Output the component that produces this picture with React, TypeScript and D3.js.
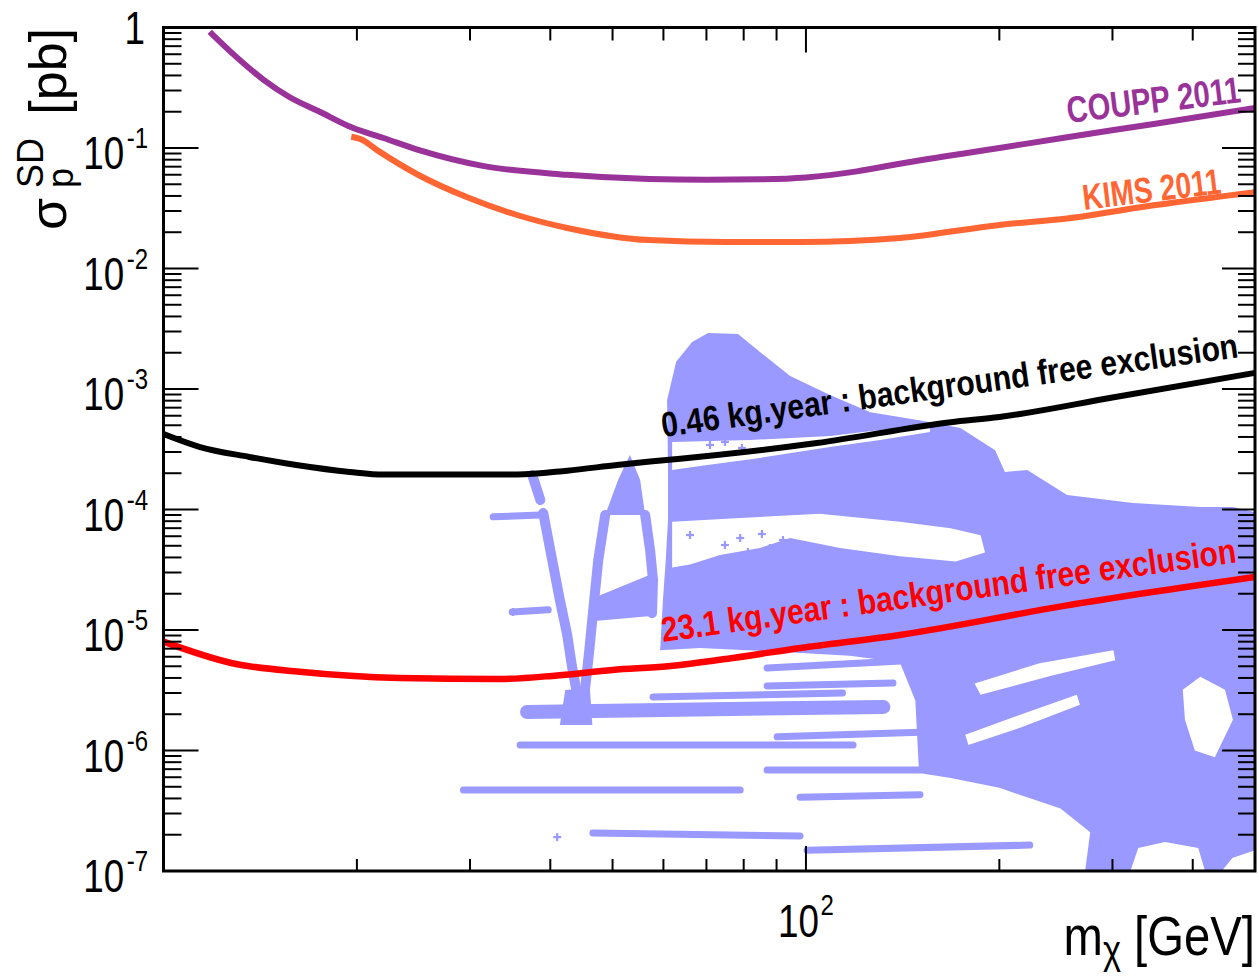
import React from "react";
import * as d3 from "d3";

type Pt = [number, number];

const WIDTH = 1259;
const HEIGHT = 976;
const PLOT = { left: 163.5, right: 1255, top: 27.5, bottom: 871 };

const massDomain: Pt = [10, 500];
const sigmaDomain: Pt = [1e-7, 1];

const yTickExps = [0, -1, -2, -3, -4, -5, -6, -7];
const xMajorTicks = [100];
const xMinorTicks = [20, 30, 40, 50, 60, 70, 80, 90, 200, 300, 400];
const xTickLabels = [{ value: 100, base: "10", exp: "2" }];

// exclusion curves [mass GeV, sigma pb]
const coupp2011: Pt[] = [
  [11.8, 0.92], [12.8, 0.61], [14.3, 0.37], [15.7, 0.265], [17.5, 0.2], [19.7, 0.147],
  [22, 0.121], [25, 0.096], [31.4, 0.071], [42.5, 0.06], [57, 0.0553], [70, 0.0545],
  [85, 0.055], [100, 0.057], [120, 0.064], [140, 0.074], [200, 0.1], [255, 0.123],
  [350, 0.159], [500, 0.215],
];
const kims2011: Pt[] = [
  [19.6, 0.124], [20.3, 0.118], [21.5, 0.096], [24.9, 0.06], [29.7, 0.039], [35.5, 0.0278],
  [42.5, 0.0217], [57, 0.0172], [75, 0.0166], [98, 0.0166], [140, 0.0179], [200, 0.023],
  [255, 0.026], [350, 0.0336], [500, 0.043],
];
const excl046: Pt[] = [
  [10, 4.23e-4], [11.4, 3.3e-4], [13.6, 2.73e-4], [16.1, 2.34e-4], [19.5, 2.05e-4],
  [22, 1.95e-4], [28, 1.95e-4], [35.5, 1.95e-4], [42.5, 2.1e-4], [50.8, 2.34e-4],
  [57.2, 2.5e-4], [72.7, 2.83e-4], [104, 3.56e-4], [168, 5.3e-4], [200, 5.86e-4],
  [300, 8.5e-4], [500, 1.36e-3],
];
const excl231: Pt[] = [
  [10, 8e-6], [12.8, 5.3e-6], [16.3, 4.5e-6], [23.3, 4.0e-6], [33.4, 3.92e-6], [41, 4.2e-6],
  [50, 4.66e-6], [61, 5.0e-6], [77, 5.86e-6], [98, 7.1e-6], [140, 9.1e-6], [255, 1.6e-5],
  [500, 2.75e-5],
];

// model scan cloud: outer region and holes
const cloudOuter: Pt[] = [
  [61.0, 2.13e-4], [60.8, 8.1e-4], [62.8, 1.68e-3], [66.5, 2.46e-3], [70.4, 2.92e-3],
  [78.4, 2.86e-3], [84.8, 2.03e-3], [94.5, 1.28e-3], [109, 8.9e-4], [126, 6.4e-4],
  [150, 5.5e-4], [174, 4.75e-4], [197, 3.1e-4], [204, 2.05e-4], [221, 2.13e-4],
  [234, 1.76e-4], [255, 1.32e-4], [323, 1.13e-4], [411, 1.05e-4], [462, 1.05e-4],
  [500, 9.5e-5], [500, 1.49e-7], [461, 1.28e-7], [444, 1e-7], [418, 1e-7], [408, 1.55e-7],
  [362, 1.74e-7], [329, 1.55e-7], [320, 1e-7], [272, 1e-7], [277, 2.1e-7], [249, 3.3e-7],
  [200, 4.9e-7], [168, 5.9e-7], [150, 6.5e-7], [148, 2.6e-6], [140, 5.4e-6], [117, 6.1e-6],
  [91, 6.6e-6], [68.4, 7.1e-6], [59.3, 6.8e-6], [59.9, 1.77e-5], [60.5, 3.8e-5], [61, 8.2e-5],
];
const cloudHoleA: Pt[] = [
  [61.9, 3.63e-4], [81.8, 3.77e-4], [109, 4.07e-4], [130.5, 4.57e-4], [156, 4.93e-4],
  [156, 4.4e-4], [130.5, 3.77e-4], [109, 3.3e-4], [84.8, 2.68e-4], [68.4, 2.3e-4], [61.9, 2.13e-4],
];
const cloudHoleB: Pt[] = [
  [61.9, 7.9e-5], [79, 8.5e-5], [105, 9.2e-5], [140, 7.9e-5], [168, 7.0e-5], [187, 6.1e-5],
  [190, 4.4e-5], [171, 3.7e-5], [140, 4.1e-5], [113, 4.8e-5], [94.5, 5.8e-5], [84.8, 4.8e-5],
  [73.5, 4.2e-5], [66, 3.5e-5], [61.9, 3.3e-5],
];
const cloudHoleC: Pt[] = [
  [386, 3.2e-6], [411, 4.1e-6], [449, 3.2e-6], [462, 1.8e-6], [433, 8.8e-7], [403, 1.0e-6], [389, 1.8e-6],
];
const cloudHoleD: Pt[] = [
  [183, 3.6e-6], [231, 5.3e-6], [301, 6.8e-6], [303, 5.6e-6], [240, 4.15e-6], [187, 2.9e-6],
];
const cloudHoleE: Pt[] = [
  [177, 1.35e-6], [215, 1.97e-6], [264, 2.9e-6], [267, 2.4e-6], [215, 1.54e-6], [179, 1.11e-6],
];
const cloudHoles = [cloudHoleA, cloudHoleB, cloudHoleC, cloudHoleD, cloudHoleE];

// separate filled patches
const patchAtop: Pt[] = [[53.2, 2.83e-4], [51, 1.76e-4], [48.7, 9.0e-5], [56.2, 9.0e-5], [55.2, 1.76e-4]];
const patchAbar: Pt[] = [[47.1, 1.88e-5], [57.8, 2.94e-5], [58, 1.31e-5], [46.9, 1.19e-5]];
const patchBlob: Pt[] = [[42.2, 3.18e-6], [46.1, 3.3e-6], [46.5, 1.63e-6], [41.4, 1.63e-6]];
const cloudPatches = [patchAtop, patchAbar, patchBlob];

// narrow branches
const legAleft: Pt[] = [[48.7, 9e-5], [47.5, 3.8e-5], [46.6, 1.38e-5], [46.0, 6.8e-6], [45.3, 3.2e-6]];
const legAright: Pt[] = [[56.2, 9e-5], [57.2, 4.6e-5], [57.8, 2.6e-5], [57.6, 1.38e-5]];
const legVtop: Pt[] = [[37.5, 1.93e-4], [38.6, 1.2e-4]];
const legV: Pt[] = [[39, 9.35e-5], [40, 4.6e-5], [41.4, 1.77e-5], [42.5, 9.1e-6], [43.2, 5.1e-6], [43.9, 3.2e-6]];
const cloudLegs = [legAleft, legAright, legVtop, legV];

// horizontal streaks of points
const cloudStreaks: Pt[][] = [
  [[32.6, 8.7e-5], [38.6, 9.0e-5]],
  [[34.9, 1.41e-5], [39.7, 1.47e-5]],
  [[87, 4.84e-6], [150.5, 5.64e-6]],
  [[87, 3.43e-6], [136.6, 3.63e-6]],
  [[57.8, 2.78e-6], [114, 3.0e-6]],
  [[35.9, 1.11e-6], [118.4, 1.11e-6]],
  [[90.2, 1.3e-6], [150.5, 1.42e-6]],
  [[87, 6.9e-7], [150.5, 6.9e-7]],
  [[29.3, 4.7e-7], [79, 4.7e-7]],
  [[97.9, 4.1e-7], [150.5, 4.3e-7]],
  [[46.6, 2.07e-7], [97.9, 1.95e-7]],
  [[100.4, 1.49e-7], [223, 1.64e-7]],
];
const cloudWideStreak: Pt[] = [[36.8, 2.09e-6], [132, 2.3e-6]];

const cloudPoints: Pt[] = [
  [41.0, 1.91e-7], [35.0, 1.41e-5], [74.8, 5.07e-5], [79.0, 5.8e-5], [81.2, 4.44e-5],
  [85.4, 6.26e-5], [87.9, 4.79e-5], [92.1, 5.58e-5], [96.2, 4.19e-5], [99.7, 5.07e-5],
  [66.0, 6.14e-5], [70.9, 3.43e-4], [74.8, 3.63e-4], [79.5, 3.24e-4],
];

// curve labels: text, anchor [mass, sigma], angle (deg), horizontal squeeze
const curveLabels = [
  { text: "COUPP 2011", at: [256, 0.161] as Pt, angle: -6.9, squeeze: 0.79, size: 37, color: "#993399" },
  { text: "KIMS 2011", at: [271, 0.0306] as Pt, angle: -6.9, squeeze: 0.78, size: 36, color: "#ff6633" },
  { text: "0.46 kg.year : background free exclusion", at: [59.9, 3.99e-4] as Pt, angle: -7.9, squeeze: 0.86, size: 35, color: "#000000" },
  { text: "23.1 kg.year : background free exclusion", at: [59.9, 7.95e-6] as Pt, angle: -7.9, squeeze: 0.857, size: 35, color: "#ff0000" },
];

const FONT = "'Liberation Sans', Arial, Helvetica, sans-serif";
const CLOUD = "#9999ff";

export default function App() {
  const x = d3.scaleLog().domain(massDomain).range([PLOT.left, PLOT.right]);
  const y = d3.scaleLog().domain(sigmaDomain).range([PLOT.bottom, PLOT.top]);
  const curve = d3
    .line<Pt>()
    .x((d) => x(d[0]))
    .y((d) => y(d[1]))
    .curve(d3.curveMonotoneX);
  const straight = d3
    .line<Pt>()
    .x((d) => x(d[0]))
    .y((d) => y(d[1]));
  const ring = (pts: Pt[]) => straight(pts) + "Z";

  const cloudPath = [cloudOuter, ...cloudHoles].map(ring).join(" ");

  const yMinor: number[] = [];
  for (let e = -7; e < 0; e++) for (let m = 2; m <= 9; m++) yMinor.push(m * Math.pow(10, e));

  return (
    <svg
      width={WIDTH}
      height={HEIGHT}
      style={{ position: "absolute", left: 0, top: 0, background: "#fff" }}
      fontFamily={FONT}
    >
      <defs>
        <clipPath id="plotclip">
          <rect x={PLOT.left} y={PLOT.top} width={PLOT.right - PLOT.left} height={PLOT.bottom - PLOT.top} />
        </clipPath>
      </defs>
      <rect x={0} y={0} width={WIDTH} height={HEIGHT} fill="#fff" />

      <g clipPath="url(#plotclip)">
        {/* scan cloud */}
        <path d={cloudPath} fill={CLOUD} fillRule="evenodd" />
        {cloudPatches.map((p, i) => (
          <path key={"p" + i} d={ring(p)} fill={CLOUD} />
        ))}
        {cloudLegs.map((p, i) => (
          <path key={"l" + i} d={straight(p) || ""} fill="none" stroke={CLOUD} strokeWidth={10} strokeLinecap="round" />
        ))}
        {cloudStreaks.map((p, i) => (
          <path key={"s" + i} d={straight(p) || ""} fill="none" stroke={CLOUD} strokeWidth={7} strokeLinecap="round" />
        ))}
        <path d={straight(cloudWideStreak) || ""} fill="none" stroke={CLOUD} strokeWidth={14} strokeLinecap="round" />
        {cloudPoints.map((p, i) => (
          <g key={"c" + i} stroke={CLOUD} strokeWidth={2.2}>
            <line x1={x(p[0]) - 4} x2={x(p[0]) + 4} y1={y(p[1])} y2={y(p[1])} />
            <line x1={x(p[0])} x2={x(p[0])} y1={y(p[1]) - 4} y2={y(p[1]) + 4} />
          </g>
        ))}

        {/* exclusion curves */}
        <path d={curve(coupp2011) || ""} fill="none" stroke="#993399" strokeWidth={6} />
        <path d={curve(kims2011) || ""} fill="none" stroke="#ff6633" strokeWidth={6} />
        <path d={curve(excl046) || ""} fill="none" stroke="#000" strokeWidth={6} />
        <path d={curve(excl231) || ""} fill="none" stroke="#ff0000" strokeWidth={6.5} />
      </g>

      {/* curve labels */}
      {curveLabels.map((l, i) => (
        <g
          key={"cl" + i}
          transform={`translate(${x(l.at[0])},${y(l.at[1])}) rotate(${l.angle}) scale(${l.squeeze},1)`}
        >
          <text fontSize={l.size} fontWeight="bold" fill={l.color}>
            {l.text}
          </text>
        </g>
      ))}

      {/* axes frame */}
      <rect
        x={PLOT.left}
        y={PLOT.top}
        width={PLOT.right - PLOT.left}
        height={PLOT.bottom - PLOT.top}
        fill="none"
        stroke="#000"
        strokeWidth={3}
      />
      <g stroke="#000" strokeWidth={2}>
        {yTickExps.map((e) => {
          const yy = y(Math.pow(10, e));
          return (
            <g key={"ym" + e}>
              <line x1={PLOT.left} x2={PLOT.left + 35} y1={yy} y2={yy} />
              <line x1={PLOT.right} x2={PLOT.right - 33} y1={yy} y2={yy} />
            </g>
          );
        })}
        {yMinor.map((v, i) => {
          const yy = y(v);
          return (
            <g key={"yn" + i}>
              <line x1={PLOT.left} x2={PLOT.left + 18} y1={yy} y2={yy} />
              <line x1={PLOT.right} x2={PLOT.right - 17} y1={yy} y2={yy} />
            </g>
          );
        })}
        {xMajorTicks.map((v) => (
          <g key={"xm" + v}>
            <line x1={x(v)} x2={x(v)} y1={PLOT.bottom} y2={PLOT.bottom - 25} />
            <line x1={x(v)} x2={x(v)} y1={PLOT.top} y2={PLOT.top + 25} />
          </g>
        ))}
        {xMinorTicks.map((v) => (
          <g key={"xn" + v}>
            <line x1={x(v)} x2={x(v)} y1={PLOT.bottom} y2={PLOT.bottom - 12} />
            <line x1={x(v)} x2={x(v)} y1={PLOT.top} y2={PLOT.top + 13} />
          </g>
        ))}
      </g>

      {/* y tick labels */}
      {yTickExps.map((e) => {
        const yy = y(Math.pow(10, e));
        if (e === 0)
          return (
            <g key={"yl" + e} transform={`translate(145,${yy}) scale(0.8,1)`}>
              <text textAnchor="end" fontSize={46} y={16}>
                1
              </text>
            </g>
          );
        return (
          <g key={"yl" + e} transform={`translate(148,${yy}) scale(0.8,1)`}>
            <text textAnchor="end" fontSize={46} y={21}>
              10
              <tspan fontSize={30} dx={3} dy={-21}>
                {String(e)}
              </tspan>
            </text>
          </g>
        );
      })}

      {/* x tick labels */}
      {xTickLabels.map((t) => (
        <g key={"xl" + t.value} transform={`translate(${x(t.value)},937) scale(0.8,1)`}>
          <text textAnchor="middle" fontSize={46}>
            {t.base}
            <tspan fontSize={30} dx={2} dy={-22}>
              {t.exp}
            </tspan>
          </text>
        </g>
      ))}

      {/* x title */}
      <g transform="translate(1255,955) scale(0.86,1)">
        <text textAnchor="end" fontSize={55}>
          m
          <tspan fontSize={40} dy={9}>
            χ
          </tspan>
          <tspan fontSize={55} dy={-9}>
            {" [GeV]"}
          </tspan>
        </text>
      </g>

      {/* y title */}
      <g transform="translate(66,28) rotate(-90)">
        <text x={-202} y={0} fontSize={52}>
          σ
        </text>
        <text x={-160} y={-23} fontSize={36}>
          SD
        </text>
        <text x={-160} y={7} fontSize={36}>
          p
        </text>
        <text x={0} y={0} textAnchor="end" fontSize={52}>
          [pb]
        </text>
      </g>
    </svg>
  );
}
